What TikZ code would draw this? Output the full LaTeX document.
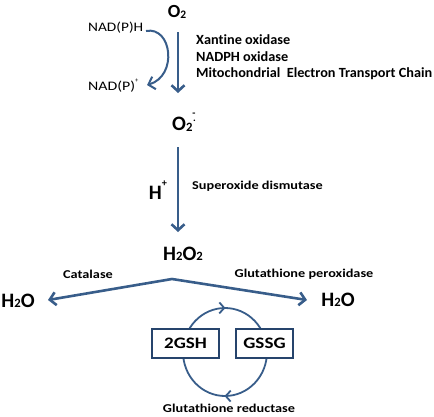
\documentclass[tikz,border=0pt]{standalone}
\usepackage{fontspec}
\usepackage{graphicx}
\setmainfont{Carlito}[Ligatures=CommonOff]
\newfontfamily\lblfont{Carlito}[FakeStretch=1.19,Ligatures=CommonOff]
\usetikzlibrary{arrows.meta,decorations.markings}
\definecolor{arr}{RGB}{56,93,138}
\definecolor{boxc}{RGB}{38,68,108}
\newcommand\lowsub[1]{\raisebox{-0.02em}{\scalebox{0.62}{#1}}}
\newcommand\hisup[1]{\raisebox{0.62em}{\scalebox{0.5}{#1}}}
\newcommand\fitw[2]{\resizebox{#1}{\height}{#2}}
\tikzset{
  lbl/.style={font=\bfseries\fontsize{14}{16}\selectfont, inner sep=0pt, anchor=west},
  lbls/.style={font=\lblfont\bfseries\fontsize{12}{14}\selectfont, inner sep=0pt},
  small/.style={font=\fontsize{13}{15}\selectfont, inner sep=0pt, anchor=west},
  big/.style={font=\bfseries\fontsize{18.5}{22}\selectfont, inner sep=0pt},
  bigger/.style={font=\bfseries\fontsize{20.5}{24}\selectfont, inner sep=0pt},
  mainarrow/.style={draw=arr, line width=2.6pt, -{Straight Barb[length=6pt,width=13pt]}},
  thinarrow/.style={draw=arr, line width=2pt, -{Straight Barb[length=6pt,width=13pt]}},
  gbox/.style={draw=boxc, line width=1.2pt, fill=white, minimum height=29pt, inner sep=0pt,
    font=\lblfont\bfseries\fontsize{16}{18}\selectfont},
}
\begin{document}
\begin{tikzpicture}[x=1pt,y=1pt]
\useasboundingbox (0,0) rectangle (434,-416);
% nodes
\node[big] (o2) at (177,-12) {O\lowsub{2}};
\node[small] (nadph) at (88,-28) {\fitw{55pt}{NAD(P)H}};
\node[small] (nadp) at (88,-86) {\fitw{47pt}{NAD(P)}\hisup{+}};
\node[lbl] (x1) at (196,-40) {\fitw{94pt}{Xantine oxidase}};
\node[lbl] (x2) at (196,-57) {\fitw{92pt}{NADPH oxidase}};
\node[lbl] (x3) at (196,-74) {\fitw{236pt}{Mitochondrial\ \ Electron Transport Chain}};
\node[bigger] (o2m) at (184,-122) {O\lowsub{2}\raisebox{0.72em}{\scalebox{0.5}{-}}\kern-0.12em\raisebox{0.45em}{\scalebox{0.5}{.}}};
\node[bigger] (hp) at (158,-190) {H\hisup{+}};
\node[lbls,anchor=west] (sod) at (192,-186) {Superoxide dismutase};
\node[bigger] (h2o2) at (183,-254) {H\lowsub{2}O\lowsub{2}};
\node[lbls] (cat) at (88,-274) {Catalase};
\node[lbls] (gpx) at (304,-274) {Glutathione peroxidase};
\node[bigger] (w1) at (18,-301) {H\lowsub{2}O};
\node[bigger] (w2) at (338,-300) {H\lowsub{2}O};
\node[lbls] (gr) at (229,-408) {Glutathione reductase};
% coordinates
\coordinate (c1s) at (146,-31);
\coordinate (c1e) at (147,-85);
\coordinate (a1s) at (178,-32);
\coordinate (a1e) at (178,-93);
\coordinate (a2s) at (178,-147);
\coordinate (a2e) at (178,-232);
\coordinate (apex) at (172,-279);
\coordinate (le) at (48,-300);
\coordinate (re) at (307,-300);
\coordinate (cc) at (225,-352);
% arrows
\draw[thinarrow] (c1s) .. controls (172,-26) and (178,-76) .. (c1e);
\draw[mainarrow] (a1s) -- (a1e);
\draw[mainarrow] (a2s) -- (a2e);
\draw[mainarrow] (apex) -- (le);
\draw[mainarrow] (apex) -- (re);
% cycle
\draw[draw=arr, line width=1.8pt,
  postaction={decorate},
  decoration={markings,
    mark=at position 0.125 with {\arrow[arr]{Straight Barb[length=5pt,width=11pt,line width=1.8pt]}},
    mark=at position 0.625 with {\arrow[arr]{Straight Barb[length=5pt,width=11pt,line width=1.8pt]}}}]
  (cc) ++(135:42 and 44) arc[start angle=135, end angle=-225, x radius=42, y radius=44];
\node[gbox, minimum width=67pt] (gsh) at (185.5,-343.5) {2GSH};
\node[gbox, minimum width=57pt] (gssg) at (264.5,-343.5) {GSSG};
\end{tikzpicture}
\end{document}
